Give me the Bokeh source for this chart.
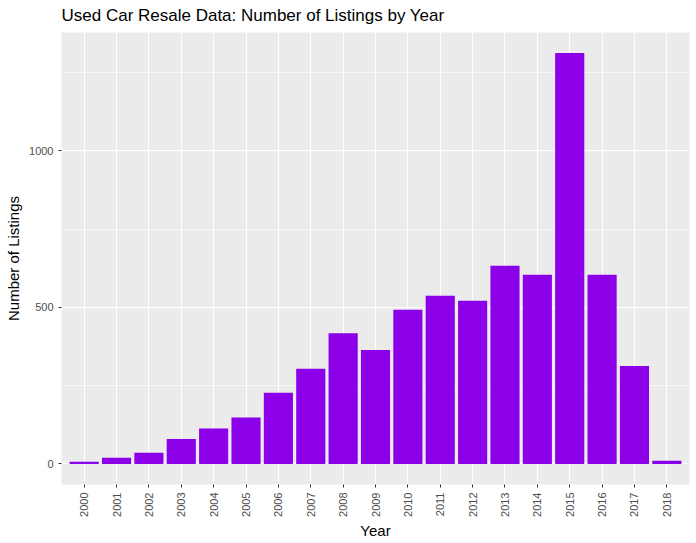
from bokeh.plotting import figure
from bokeh.models import FactorRange, Range1d, FixedTicker, ColumnDataSource
from bokeh.embed import file_html
from bokeh.resources import INLINE
import math

years = [str(y) for y in range(2000, 2019)]
listings = [7, 20, 36, 80, 113, 148, 227, 304, 417, 364, 492, 537, 521, 633, 604, 1312, 604, 313, 10]
y_ticks = [0, 500, 1000]
y_minor = [250, 750, 1250]

FONT = "Liberation Sans"

src = ColumnDataSource(dict(year=years, n=listings))

p = figure(width=696, height=543, output_backend="svg", toolbar_location=None,
           x_range=FactorRange(factors=years, range_padding=0.2, range_padding_units="absolute"),
           y_range=Range1d(-65.6, 1377.6),
           min_border_left=61, min_border_right=7, min_border_top=32, min_border_bottom=59)

p.vbar(x="year", top="n", width=0.9, source=src, fill_color="#8B00E8", line_color=None)

p.title.text = "Used Car Resale Data: Number of Listings by Year"
p.title.text_font = FONT
p.title.text_font_size = "17px"
p.title.text_font_style = "normal"
p.title.text_color = "black"
p.title.offset = 0
p.title.vertical_align = "top"
p.title.standoff = 11

p.background_fill_color = "#EBEBEB"
p.border_fill_color = "white"
p.outline_line_color = None

p.yaxis.ticker = FixedTicker(ticks=y_ticks, minor_ticks=y_minor)
for ax in [p.xaxis[0], p.yaxis[0]]:
    ax.axis_line_color = None
    ax.major_tick_line_color = "#333333"
    ax.major_tick_in = 0
    ax.major_tick_out = 3
    ax.minor_tick_line_color = None
    ax.major_label_text_font = FONT
    ax.major_label_text_font_size = "11px"
    ax.major_label_text_color = "#4D4D4D"
    ax.axis_label_text_font = FONT
    ax.axis_label_text_font_size = "15px"
    ax.axis_label_text_font_style = "normal"
    ax.axis_label_text_color = "black"

p.xaxis.axis_label = "Year"
p.yaxis.axis_label = "Number of Listings"
p.xaxis.major_label_orientation = math.pi / 2
p.xaxis.major_label_standoff = 5
p.yaxis.major_label_standoff = 4
p.xaxis.axis_label_standoff = 2
p.yaxis.axis_label_standoff = 4

p.xgrid.grid_line_color = "white"
p.xgrid.grid_line_width = 1.1
p.ygrid.grid_line_color = "white"
p.ygrid.grid_line_width = 1.1
p.ygrid.minor_grid_line_color = "white"
p.ygrid.minor_grid_line_width = 0.55

open("out.html", "w").write(file_html(p, INLINE))
